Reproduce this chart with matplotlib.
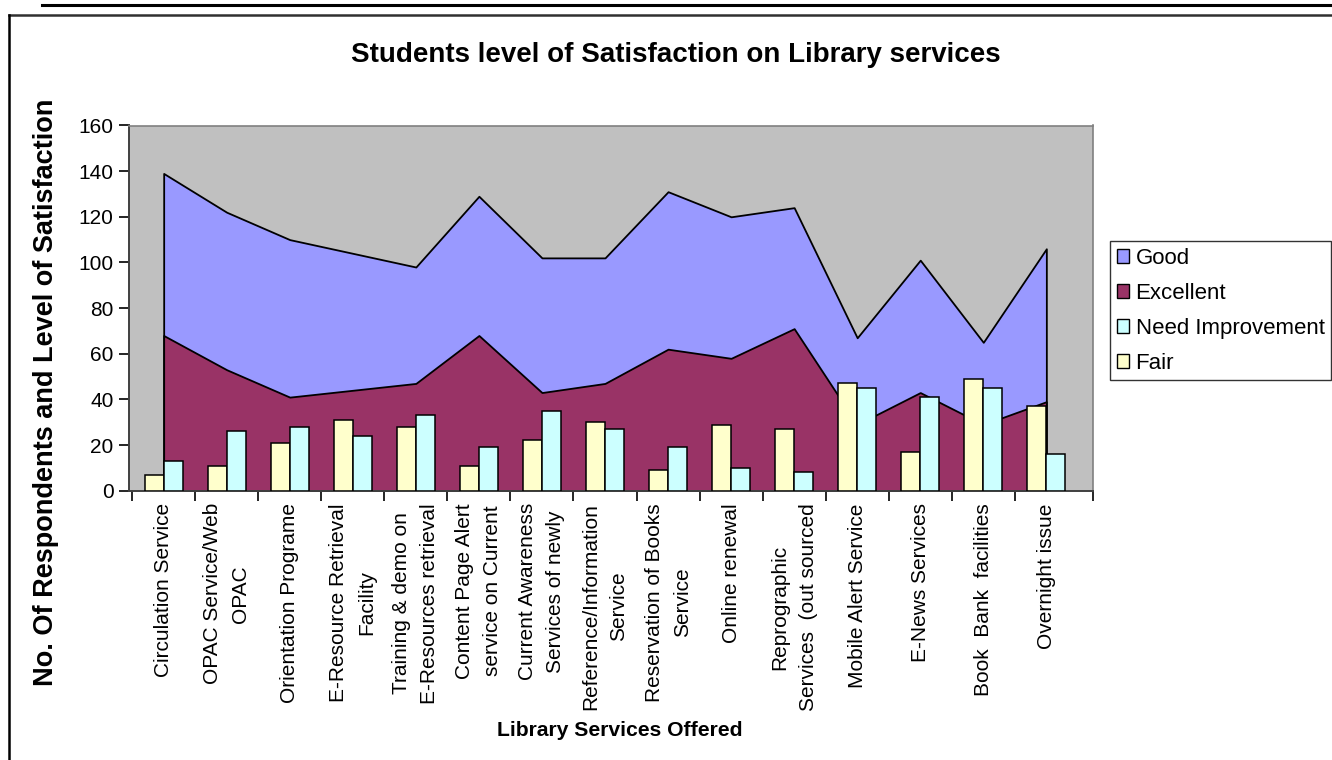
import matplotlib
matplotlib.use("Agg")
import matplotlib.pyplot as plt
import numpy as np
from matplotlib.lines import Line2D
from matplotlib.patches import Patch

plt.rcParams['font.family'] = ['Liberation Sans', 'DejaVu Sans']

services = ["Circulation Service", "OPAC Service/Web\nOPAC", "Orientation Programe",
            "E-Resource Retrieval\nFacility", "Training & demo on\nE-Resources retrieval",
            "Content Page Alert\nservice on Current", "Current Awareness\nServices of newly",
            "Reference/Information\nService", "Reservation of Books\nService", "Online renewal",
            "Reprographic\nServices  (out sourced", "Mobile Alert Service", "E-News Services",
            "Book  Bank  facilities", "Overnight issue"]

excellent = [68, 53, 41, 44, 47, 68, 43, 47, 62, 58, 71, 29, 43, 29, 39]
good = [71, 69, 69, 60, 51, 61, 59, 55, 69, 62, 53, 38, 58, 36, 67]
need_improvement = [13, 26, 28, 24, 33, 19, 35, 27, 19, 10, 8, 45, 41, 45, 16]
fair = [7, 11, 21, 31, 28, 11, 22, 30, 9, 29, 27, 47, 17, 49, 37]

W, H = 1332, 760
fig = plt.figure(figsize=(W / 100, H / 100), dpi=100)
ax = fig.add_axes([129 / W, 1 - 490.7 / H, (1093 - 129) / W, (490.7 - 125.5) / H])
ax.set_facecolor('#C0C0C0')

x = np.arange(len(services))
ex = np.array(excellent)
top = ex + np.array(good)

ax.fill_between(x, 0, top, facecolor='#9999FF', edgecolor='black', linewidth=1.3, zorder=1)
ax.fill_between(x, 0, ex, facecolor='#993366', edgecolor='black', linewidth=1.3, zorder=2)

bw = 0.30
ax.bar(x - bw / 2, fair, bw, color='#FFFFCC', edgecolor='black', linewidth=1.1, zorder=3)
ax.bar(x + bw / 2, need_improvement, bw, color='#CCFFFF', edgecolor='black', linewidth=1.1, zorder=3)

xmax = 14.74
ax.set_xlim(-0.55, xmax)
ax.set_ylim(0, 160)
ax.set_yticks(range(0, 161, 20))
ax.tick_params(axis='y', labelsize=15, length=7, width=1.2, direction='out', pad=4)
ax.set_xticks(list(np.arange(-0.5, 14, 1.0)) + [xmax])
ax.set_xticklabels([])
ax.set_xticks(x, minor=True)
ax.set_xticklabels(services, minor=True, rotation=90, ha='center', va='top',
                   multialignment='center', fontsize=15, linespacing=1.6)
ax.tick_params(axis='x', which='major', length=7, width=1.2, direction='out')
ax.tick_params(axis='x', which='minor', length=0, pad=9)

for s in ['top', 'right']:
    ax.spines[s].set_color('#808080')
    ax.spines[s].set_linewidth(1.2)
for s in ['left', 'bottom']:
    ax.spines[s].set_color('#404040')
    ax.spines[s].set_linewidth(1.4)

fig.text(676 / W, 1 - 55 / H, "Students level of Satisfaction on Library services",
         ha='center', va='center', fontsize=20, fontweight='bold')
fig.text(46 / W, 1 - 392 / H, "No. Of Respondents and Level of Satisfaction",
         ha='center', va='center', rotation=90, fontsize=19.5, fontweight='bold')
fig.text(620 / W, 1 - 730 / H, "Library Services Offered",
         ha='center', va='center', fontsize=15.2, fontweight='bold')

handles = [Patch(facecolor='#9999FF', edgecolor='black'),
           Patch(facecolor='#993366', edgecolor='black'),
           Patch(facecolor='#CCFFFF', edgecolor='black'),
           Patch(facecolor='#FFFFCC', edgecolor='black')]
leg = fig.legend(handles, ["Good", "Excellent", "Need Improvement", "Fair"],
                 loc='upper left', bbox_to_anchor=(1110 / W, 1 - 241 / H),
                 fontsize=16, frameon=True, fancybox=False, edgecolor='black',
                 handlelength=0.55, handleheight=0.55, handletextpad=0.3,
                 labelspacing=0.63, borderpad=0.3, borderaxespad=0)
leg.get_frame().set_linewidth(1.0)

# page rule and chart border
fig.add_artist(Line2D([42 / W, 1], [1 - 5 / H, 1 - 5 / H], color='black', linewidth=2.2))
fig.add_artist(Line2D([8.5 / W, 1], [1 - 14.5 / H, 1 - 14.5 / H], color='#303030', linewidth=1.8))
fig.add_artist(Line2D([8.5 / W, 8.5 / W], [1 - 14.5 / H, 0], color='black', linewidth=1.8))

fig.savefig("out.png", dpi=100)
